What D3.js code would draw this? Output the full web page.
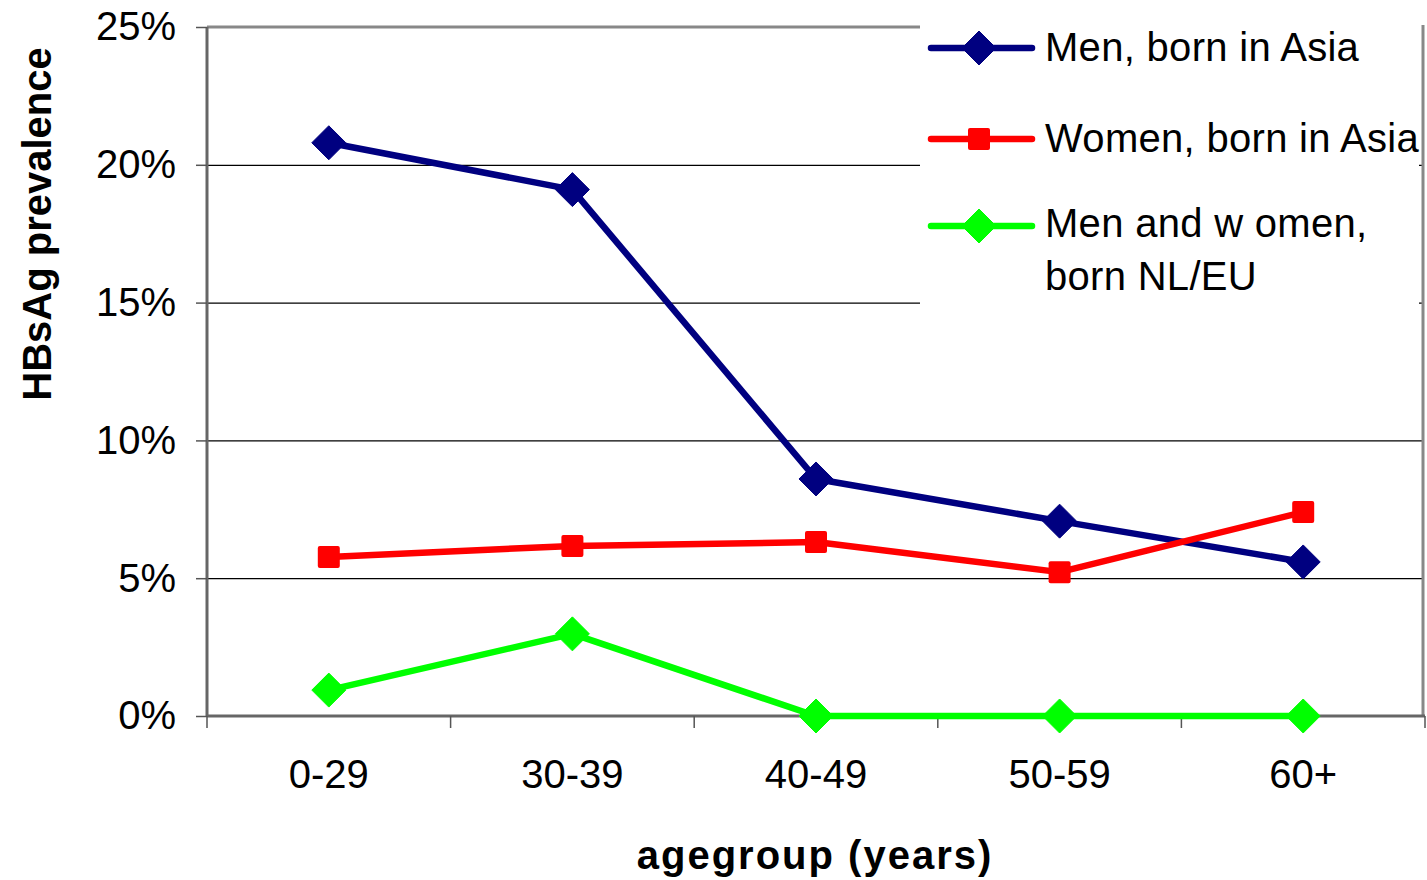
<!DOCTYPE html>
<html>
<head>
<meta charset="utf-8">
<script src="https://cdn.jsdelivr.net/npm/d3@7"></script>
<style>
  html, body { margin: 0; padding: 0; background: #fff; }
  svg { display: block; font-family: "Liberation Sans", Arial, sans-serif; }
</style>
</head>
<body>
<svg id="chart" width="1427" height="880"></svg>
<script>
const categories = ["0-29", "30-39", "40-49", "50-59", "60+"];
const menAsia = [0.208, 0.191, 0.086, 0.0707, 0.0559];
const womenAsia = [0.0577, 0.0617, 0.0631, 0.0522, 0.074];
const nlEu = [0.0094, 0.0298, 0, 0, 0];
const yTicks = [0, 0.05, 0.10, 0.15, 0.20, 0.25];
const seriesNames = ["Men, born in Asia", "Women, born in Asia", ["Men and w omen,", "born NL/EU"]];
const seriesColors = ["#000080", "#FF0000", "#00FF00"];
const seriesShapes = ["diamond", "square", "diamond"];
const xTitle = "agegroup (years)";
const yTitle = "HBsAg prevalence";

(function () {
const svg = d3.select("#chart");
const pL = 207, pR = 1425, pT = 27, pB = 716;
const borderX = 1423;

const x = d3.scaleBand().domain(categories).range([pL, pR]);
const y = d3.scaleLinear().domain([0, 0.25]).range([pB, pT]);

// Gridlines (black)
svg.append("g")
  .attr("transform", `translate(${pL},0)`)
  .call(d3.axisLeft(y).tickValues(yTicks.filter(v => v > 0 && v < 0.25)).tickSize(-(borderX - pL)).tickFormat(""))
  .call(g => g.select(".domain").remove())
  .call(g => g.selectAll("line").attr("stroke", "#000").attr("stroke-width", 1.2));

// Legend background (covers grid top-right)
svg.append("rect").attr("x", 920).attr("y", 0).attr("width", borderX - 920 - 4).attr("height", 306).attr("fill", "#fff");

// Top border (gray), visible until legend
svg.append("line").attr("x1", pL).attr("x2", 920).attr("y1", pT).attr("y2", pT)
  .attr("stroke", "#888").attr("stroke-width", 3);
// Right border
svg.append("line").attr("x1", borderX).attr("x2", borderX).attr("y1", pT - 2).attr("y2", pB)
  .attr("stroke", "#888").attr("stroke-width", 3);

// Y axis
svg.append("g")
  .attr("transform", `translate(${pL},0)`)
  .call(d3.axisLeft(y).tickValues(yTicks).tickSize(11).tickPadding(20).tickFormat(d3.format(".0%")))
  .call(g => g.select(".domain").attr("stroke", "#666").attr("stroke-width", 3).attr("d", `M0,${pT}V${pB}`))
  .call(g => g.selectAll("line").attr("stroke", "#555").attr("stroke-width", 1.5))
  .call(g => g.selectAll("text").attr("font-size", 40).attr("fill", "#000")
    .attr("font-family", "'Liberation Sans', Arial, sans-serif"));

// X axis: labels
svg.append("g")
  .attr("transform", `translate(0,${pB})`)
  .call(d3.axisBottom(x).tickSize(0).tickPadding(44))
  .call(g => g.select(".domain").attr("stroke", "#666").attr("stroke-width", 3).attr("d", `M${pL},0H${pR}`))
  .call(g => g.selectAll("text").attr("font-size", 40).attr("fill", "#000")
    .attr("font-family", "'Liberation Sans', Arial, sans-serif"));

// X boundary ticks
const bounds = categories.map(c => x(c)).concat([x(categories[categories.length - 1]) + x.bandwidth()]);
svg.append("g").selectAll("line").data(bounds).join("line")
  .attr("x1", d => d).attr("x2", d => d).attr("y1", pB).attr("y2", pB + 12)
  .attr("stroke", "#555").attr("stroke-width", 1.5);

// Series
const allSeries = [menAsia, womenAsia, nlEu];
const line = d3.line().x((d, i) => x(categories[i]) + x.bandwidth() / 2).y(d => y(d));

function drawMarker(g, shape, cx, cy, color) {
  if (shape === "diamond") {
    const r = 17;
    g.append("path").attr("d", `M${cx},${cy - r}L${cx + r},${cy}L${cx},${cy + r}L${cx - r},${cy}Z`)
      .attr("fill", color).attr("stroke", color).attr("stroke-width", 1).attr("stroke-linejoin", "round");
  } else {
    const s = 22;
    g.append("rect").attr("x", cx - s / 2).attr("y", cy - s / 2).attr("width", s).attr("height", s)
      .attr("rx", 2).attr("fill", color);
  }
}

allSeries.forEach((vals, si) => {
  const g = svg.append("g");
  g.append("path").datum(vals).attr("d", line).attr("fill", "none")
    .attr("stroke", seriesColors[si]).attr("stroke-width", 6.5).attr("stroke-linejoin", "round");
  vals.forEach((v, i) => drawMarker(g, seriesShapes[si], x(categories[i]) + x.bandwidth() / 2, y(v), seriesColors[si]));
});

// Legend
const legendY = [48, 139, 226];
const legendBase = [[61], [152], [237, 290]];
seriesNames.forEach((name, si) => {
  const g = svg.append("g");
  g.append("line").attr("x1", 931).attr("x2", 1032).attr("y1", legendY[si]).attr("y2", legendY[si])
    .attr("stroke", seriesColors[si]).attr("stroke-width", 6.5).attr("stroke-linecap", "round");
  drawMarker(g, seriesShapes[si], 979, legendY[si], seriesColors[si]);
  const lines = Array.isArray(name) ? name : [name];
  lines.forEach((t, li) => {
    g.append("text").attr("x", 1045).attr("y", legendBase[si][li]).attr("font-size", 40)
      .attr("letter-spacing", 0.3).attr("fill", "#000").text(t);
  });
});

// Axis titles
svg.append("text").attr("x", 815).attr("y", 869).attr("text-anchor", "middle")
  .attr("font-size", 40).attr("font-weight", "bold").attr("letter-spacing", 2).attr("fill", "#000").text(xTitle);
svg.append("text").attr("transform", "translate(51,224) rotate(-90)").attr("text-anchor", "middle")
  .attr("font-size", 40).attr("font-weight", "bold").attr("fill", "#000").text(yTitle);
})();
</script>
</body>
</html>
